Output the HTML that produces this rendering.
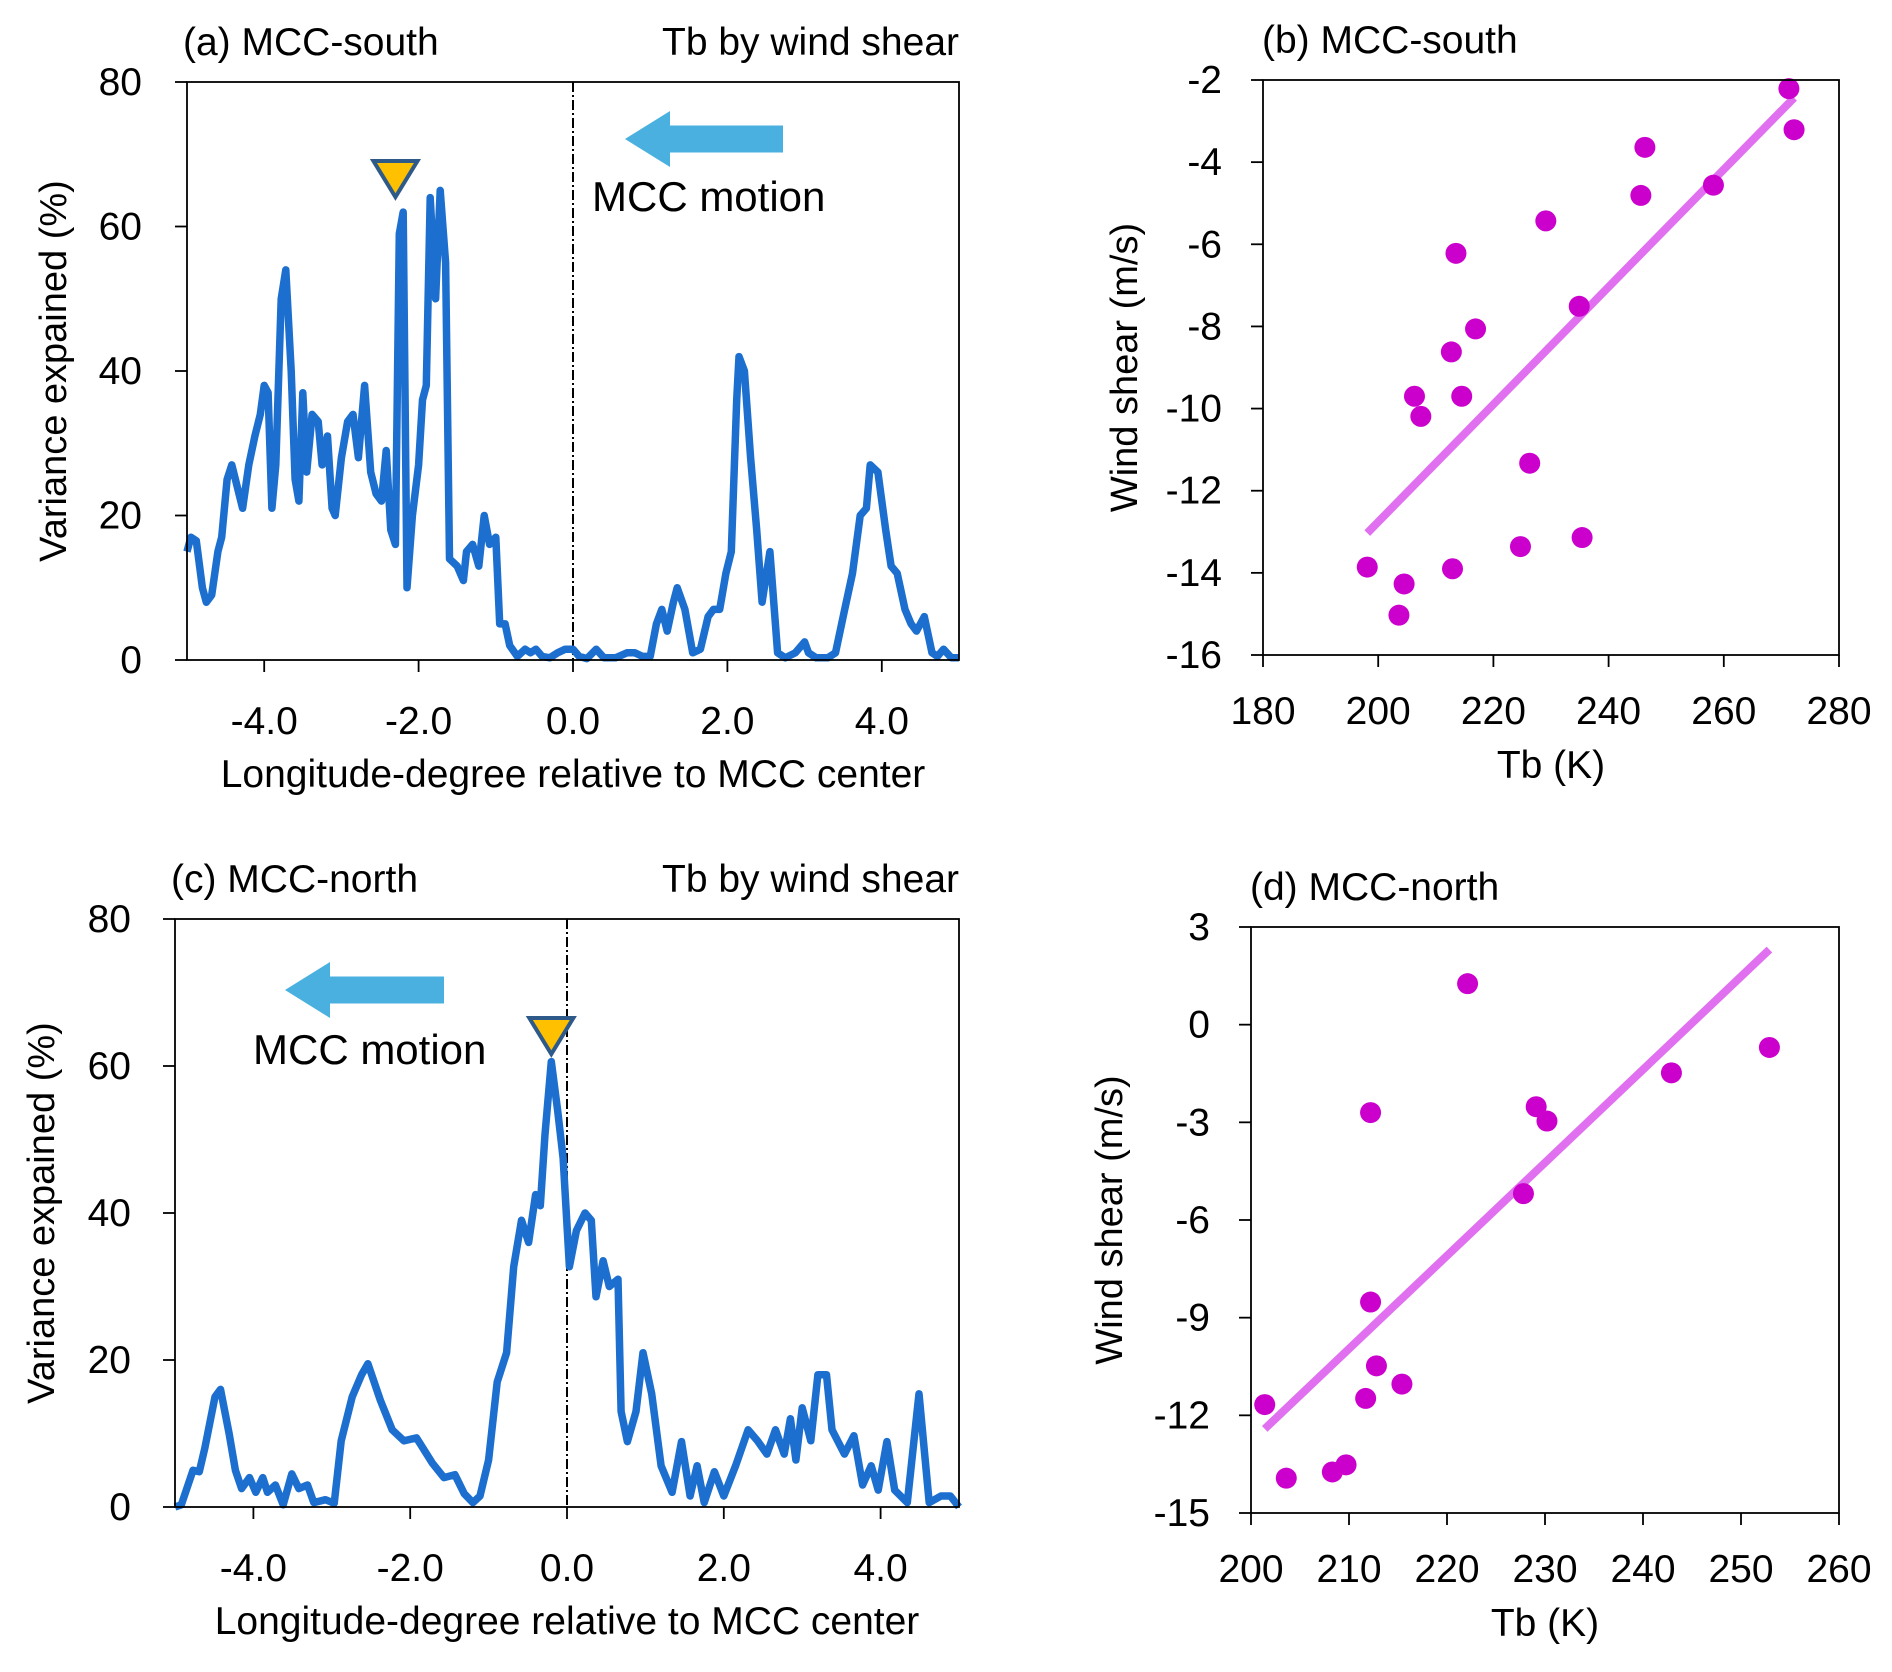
<!DOCTYPE html>
<html><head><meta charset="utf-8"><style>
html,body{margin:0;padding:0;background:#fff;}
svg{display:block;font-family:"Liberation Sans",sans-serif;}
</style></head><body>
<svg id="fig" width="1892" height="1672" viewBox="0 0 1892 1672"></svg>
<script>
// Panel (a) line data
const aX=[-5.0,-4.95,-4.88,-4.8,-4.75,-4.68,-4.6,-4.55,-4.48,-4.42,-4.35,-4.28,-4.2,-4.12,-4.05,-4.0,-3.95,-3.9,-3.85,-3.78,-3.72,-3.65,-3.6,-3.55,-3.5,-3.45,-3.38,-3.3,-3.25,-3.18,-3.12,-3.08,-3.0,-2.92,-2.85,-2.78,-2.7,-2.62,-2.55,-2.48,-2.42,-2.36,-2.3,-2.25,-2.2,-2.15,-2.08,-2.0,-1.95,-1.9,-1.85,-1.78,-1.72,-1.65,-1.6,-1.5,-1.42,-1.38,-1.3,-1.22,-1.15,-1.08,-1.0,-0.95,-0.88,-0.82,-0.72,-0.62,-0.55,-0.48,-0.4,-0.3,-0.2,-0.1,0.0,0.08,0.18,0.3,0.4,0.55,0.7,0.8,0.9,1.0,1.08,1.15,1.22,1.3,1.35,1.45,1.55,1.65,1.75,1.82,1.9,1.98,2.05,2.12,2.15,2.22,2.3,2.38,2.45,2.55,2.65,2.75,2.88,3.0,3.05,3.15,3.3,3.4,3.52,3.62,3.72,3.8,3.85,3.95,4.05,4.12,4.2,4.3,4.38,4.45,4.55,4.65,4.72,4.8,4.9,5.0];
const aY=[15,17,16.5,10,8,9,15,17,25,27,24,21,27,31,34,38,37,21,27,50,54,40,25,22,37,26,34,33,27,31,21,20,28,33,34,28,38,26,23,22,29,18,16,59,62,10,20,27,36,38,64,50,65,55,14,13,11,15,16,13,20,16,17,5,5,2,0.5,1.5,1,1.5,0.5,0.3,1,1.5,1.5,0.5,0.2,1.5,0.3,0.3,1,1,0.5,0.5,5,7,4,8,10,7,1,1.5,6,7,7,12,15,36,42,40,28,18,8,15,1,0.3,1,2.5,1,0.3,0.3,1,7,12,20,21,27,26,18,13,12,7,5,4,6,1,0.5,1.5,0.3,0.3];
// Panel (c) line data
const cX=[-5,-4.92,-4.77,-4.69,-4.62,-4.49,-4.42,-4.31,-4.23,-4.15,-4.05,-3.97,-3.88,-3.82,-3.72,-3.62,-3.51,-3.42,-3.31,-3.23,-3.08,-2.97,-2.88,-2.74,-2.62,-2.54,-2.38,-2.23,-2.08,-1.92,-1.72,-1.57,-1.43,-1.31,-1.2,-1.11,-1.0,-0.89,-0.77,-0.68,-0.58,-0.49,-0.4,-0.34,-0.28,-0.2,-0.12,-0.05,0.03,0.12,0.23,0.31,0.37,0.46,0.54,0.65,0.69,0.77,0.88,0.97,1.08,1.2,1.34,1.46,1.57,1.66,1.75,1.88,2.0,2.15,2.31,2.43,2.55,2.66,2.77,2.85,2.92,3.0,3.11,3.2,3.31,3.38,3.54,3.66,3.77,3.88,3.97,4.08,4.18,4.34,4.49,4.62,4.77,4.89,5];
const cY=[0,0.3,5,4.8,8,15,16,10,5,2.5,4,2,4,2,3,0.3,4.5,2.5,3,0.6,1,0.5,9,15,18,19.5,14.5,10.5,9,9.4,6,4,4.4,1.8,0.6,1.5,6.4,17,21,32.7,39,36,42.5,41,50.7,60.6,54,47.5,32.7,37.6,40,39,28.6,33.5,30,31,13,8.9,13,21,15.4,5.6,2,8.9,1.5,5.6,0.6,4.8,1.5,5.6,10.5,9,7.2,10.5,7.2,12,6.4,13.5,9,18,18,10.5,7.2,9.7,3,5.6,2.3,8.9,2.3,0.6,15.4,0.6,1.5,1.5,0];
// Panel (b) scatter
const bTb=[198.1,204.5,203.6,206.3,207.4,212.7,213.5,214.5,212.9,216.9,224.7,226.3,229.1,234.9,235.4,245.6,246.3,258.2,271.3,272.2];
const bWs=[-13.86,-14.27,-15.03,-9.70,-10.19,-8.62,-6.22,-9.70,-13.90,-8.06,-13.36,-11.33,-5.43,-7.51,-13.14,-4.81,-3.64,-4.56,-2.21,-3.21];
// Panel (d) scatter
const dTb=[201.4,203.6,208.3,209.7,211.7,212.2,212.2,212.8,215.4,222.1,227.8,229.1,230.2,242.9,252.9];
const dWs=[-11.67,-13.93,-13.74,-13.52,-11.48,-2.70,-8.52,-10.48,-11.04,1.26,-5.19,-2.52,-2.96,-1.48,-0.70];
const lineXTicks=["-4.0","-2.0","0.0","2.0","4.0"];
const lineXTickVals=[-4,-2,0,2,4];
const lineYTicks=[0,20,40,60,80];
const bXTicks=[180,200,220,240,260,280];
const bYTicks=[-2,-4,-6,-8,-10,-12,-14,-16];
const dXTicks=[200,210,220,230,240,250,260];
const dYTicks=[3,0,-3,-6,-9,-12,-15];

const NS="http://www.w3.org/2000/svg";
const svg=document.getElementById('fig');
function el(tag,attrs,parent,txt){const e=document.createElementNS(NS,tag);for(const k in attrs)e.setAttribute(k,attrs[k]);if(txt!==undefined)e.textContent=txt;(parent||svg).appendChild(e);return e;}
function scale(d0,d1,r0,r1){return v=>r0+(v-d0)*(r1-r0)/(d1-d0);}

function frame(g,L,R,T,B){
  const f=el('rect',{x:L,y:T,width:R-L,height:B-T,fill:'none',stroke:'#000','stroke-width':1.8},g);
  
  
}
function xticks(g,sx,vals,labels,B,base){
  vals.forEach((v,i)=>{
    const t=el('line',{x1:sx(v),x2:sx(v),y1:B,y2:B+12,stroke:'#000','stroke-width':1.8},g);
    
    
    const l=el('text',{x:sx(v),y:base,'font-size':39,'text-anchor':'middle'},g,labels[i]);
    
    
  });
}
function yticks(g,sy,vals,L,right){
  vals.forEach(v=>{
    const t=el('line',{x1:L-12,x2:L,y1:sy(v),y2:sy(v),stroke:'#000','stroke-width':1.8},g);
    
    
    const l=el('text',{x:right,y:sy(v)+13,'font-size':39,'text-anchor':'end'},g,String(v));
    
    
  });
}
function label(g,x,y,txt,anchor,name,rot,size){
  const a={x:x,y:y,'font-size':size||39,'text-anchor':anchor};
  if(rot)a.transform='rotate(-90 '+x+' '+y+')';
  const t=el('text',a,g,txt);
  
  
}
function arrow(g,tip,y,headLen,headH,shaftEnd,shaftH){
  const p=el('polygon',{points:[[tip,y],[tip+headLen,y-headH/2],[tip+headLen,y-shaftH/2],[shaftEnd,y-shaftH/2],[shaftEnd,y+shaftH/2],[tip+headLen,y+shaftH/2],[tip+headLen,y+headH/2]].map(q=>q.join(',')).join(' '),fill:'#4ab0e0'},g);
  
  
}
function marker(g,cx,top,w,h){
  const p=el('polygon',{points:`${cx-w/2},${top} ${cx+w/2},${top} ${cx},${top+h}`,fill:'#ffc000',stroke:'#2e5a8a','stroke-width':4,'stroke-linejoin':'miter'},g);
  
  
}

function linePanel(name,L,R,T,B,xs,ys,opts){
  const g=el('g',{});
  
  
  const sx=scale(-5,5,L,R), sy=scale(0,80,B,T);
  const dl=el('line',{x1:sx(0),x2:sx(0),y1:T,y2:B,stroke:'#000','stroke-width':2,'stroke-dasharray':'10,3,2,3'},g);
  
  
  const d=xs.map((x,i)=>(i?'L':'M')+sx(x).toFixed(1)+','+sy(ys[i]).toFixed(1)).join('');
  const p=el('path',{d:d,fill:'none',stroke:'#1c6fcf','stroke-width':7.5,'stroke-linejoin':'round'},g);
  
  
  frame(g,L,R,T,B);
  xticks(g,sx,lineXTickVals,lineXTicks,B,B+74);
  yticks(g,sy,lineYTicks,L,opts.yr);
  label(g,L-4,T-27,opts.title,'start','panel-title');
  label(g,R,T-27,'Tb by wind shear','end','panel-subtitle');
  label(g,(L+R)/2,B+127,'Longitude-degree relative to MCC center','middle','x-axis-title');
  label(g,opts.ytx,(T+B)/2,'Variance expained (%)','middle','y-axis-title',true,38);
  arrow(g,opts.arrow[0],opts.arrow[1],45,56,opts.arrow[2],27);
  label(g,opts.mot[0],opts.mot[1],'MCC motion','start','mcc-motion-label',false,42);
  marker(g,sx(opts.mk[0]),opts.mk[1],44,36);
}
function scatterPanel(name,L,R,T,B,xd,yd,xs,ys,xt,yt,opts){
  const g=el('g',{});
  
  
  const sx=scale(xd[0],xd[1],L,R), sy=scale(yd[0],yd[1],B,T);
  const n=xs.length,mx=xs.reduce((a,b)=>a+b)/n,my=ys.reduce((a,b)=>a+b)/n;
  let sxy=0,sxx=0;xs.forEach((x,i)=>{sxy+=(x-mx)*(ys[i]-my);sxx+=(x-mx)*(x-mx);});
  const k=sxy/sxx,b0=my-k*mx,x0=Math.min(...xs),x1=Math.max(...xs);
  const fl=el('line',{x1:sx(x0),y1:sy(k*x0+b0),x2:sx(x1),y2:sy(k*x1+b0),stroke:'#e070f0','stroke-width':8},g);
  
  
  xs.forEach((x,i)=>{
    const c=el('circle',{cx:sx(x),cy:sy(ys[i]),r:10.5,fill:'#cc00cc'},g);
    
    
  });
  frame(g,L,R,T,B);
  xticks(g,sx,xt,xt.map(String),B,B+69);
  yticks(g,sy,yt,L,opts.yr);
  label(g,L-1,T-27,opts.title,'start','panel-title');
  label(g,(L+R)/2,B+123,'Tb  (K)','middle','x-axis-title');
  label(g,opts.ytx,(T+B)/2,'Wind shear (m/s)','middle','y-axis-title',true,38);
}
linePanel('panel-a',187,959,82,660,aX,aY,{title:'(a) MCC-south',yr:142,ytx:66,arrow:[625,139,783],mot:[592,211],mk:[-2.3,161]});
scatterPanel('panel-b',1263,1839,80,655,[180,280],[-16,-2],bTb,bWs,bXTicks,bYTicks,{title:'(b) MCC-south',yr:1222,ytx:1137});
linePanel('panel-c',175,959,919,1507,cX,cY,{title:'(c) MCC-north',yr:131,ytx:54,arrow:[285,990,444],mot:[253,1064],mk:[-0.2,1018]});
scatterPanel('panel-d',1251,1839,927,1513,[200,260],[-15,3],dTb,dWs,dXTicks,dYTicks,{title:'(d) MCC-north',yr:1210,ytx:1122});
</script>
</body></html>
